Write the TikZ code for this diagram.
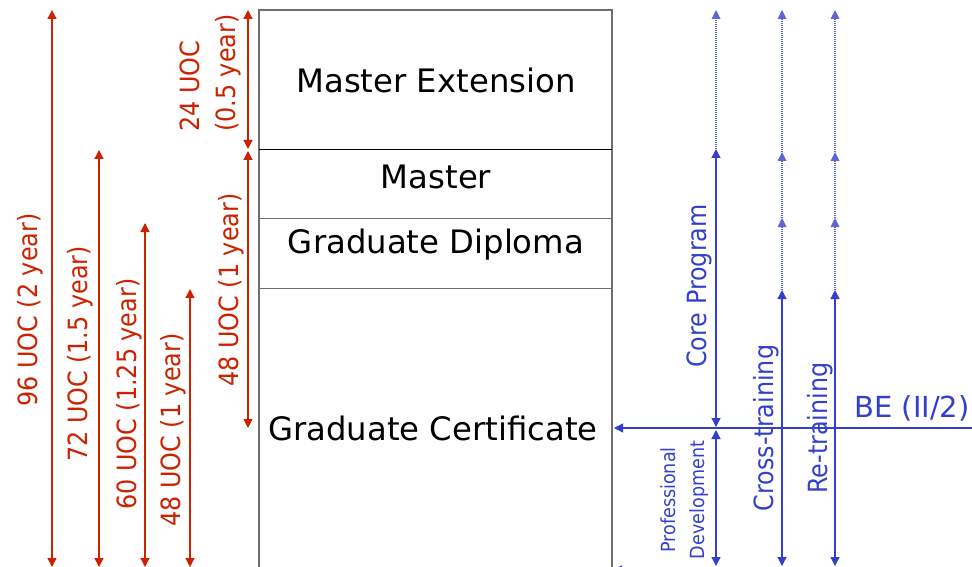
\documentclass[tikz,border=0pt]{standalone}
\usepackage{fontspec}
\setmainfont{DejaVu Sans}
\newfontfamily\condfont[FakeStretch=0.9]{DejaVu Sans}
\usetikzlibrary{arrows.meta}
\definecolor{myred}{RGB}{204,34,0}
\definecolor{myblue}{RGB}{51,64,204}
\definecolor{boxgray}{RGB}{110,110,110}
\begin{document}
\begin{tikzpicture}[x=1pt,y=-1pt,
  redarr/.style={draw=myred, line width=1.3pt, {Triangle[length=9pt,width=9pt]}-{Triangle[length=9pt,width=9pt]}},
  bluearr/.style={draw=myblue, line width=1.3pt, {Triangle[length=9pt,width=9pt]}-{Triangle[length=9pt,width=9pt]}},
  bluedot/.style={draw=myblue!80, line width=1.2pt, dash pattern=on 1pt off 1pt, -{Triangle[length=9pt,width=9pt,line width=0pt]}},
  blueone/.style={draw=myblue, line width=1.3pt, -{Triangle[length=9pt,width=9pt]}},
  boxlbl/.style={font=\fontsize{32.3}{36}\selectfont, text=black, anchor=base, inner sep=0pt},
  redlbl/.style={font=\condfont\fontsize{26.5}{30}\selectfont, text=myred, rotate=90, anchor=base, inner sep=0pt},
  bluelbl/.style={font=\condfont\fontsize{26.5}{30}\selectfont, text=myblue, rotate=90, anchor=base, inner sep=0pt},
  smallblue/.style={font=\condfont\fontsize{19.5}{22}\selectfont, text=myblue, rotate=90, anchor=base, inner sep=0pt},
  part/.style={inner sep=0pt, minimum width=353pt}
]
\useasboundingbox (0,0) rectangle (972,567);
\fill[white] (0,0) rectangle (972,567);

% ---- the stacked box ----
\node[part, minimum height=139pt] (mext) at (435.5,79.5) {};
\node[part, minimum height=69pt] (mast) at (435.5,183.5) {};
\node[part, minimum height=70pt] (gdip) at (435.5,253) {};
\node[part, minimum height=312pt] (gcert) at (435.5,444) {};
\draw[boxgray, line width=1.6pt] (gcert.south west) -- (mext.north west) -- (mext.north east) -- (gcert.south east);
\draw[black, line width=1.2pt] (mext.south west) -- (mext.south east);
\draw[boxgray, line width=1.4pt] (mast.south west) -- (mast.south east);
\draw[boxgray, line width=1.4pt] (gdip.south west) -- (gdip.south east);

\node[boxlbl] (tmext) at (436,93) {Master Extension};
\node[boxlbl] (tmast) at (436,188) {Master};
\node[boxlbl] (tgdip) at (436,253) {Graduate Diploma};
\node[boxlbl] (tgcert) at (433,440) {Graduate Certificate};

% ---- red arrows ----
\coordinate (r96t) at (52,10);   \coordinate (r96b) at (52,567);
\coordinate (r72t) at (99,150);  \coordinate (r72b) at (99,567);
\coordinate (r60t) at (145,223); \coordinate (r60b) at (145,567);
\coordinate (r48t) at (190,289); \coordinate (r48b) at (190,567);
\coordinate (r24t) at (248,10);  \coordinate (r24b) at (248,149);
\coordinate (rr48t) at (248,151); \coordinate (rr48b) at (248,428);
\draw[redarr] (r96t) -- (r96b);
\draw[redarr] (r72t) -- (r72b);
\draw[redarr] (r60t) -- (r60b);
\draw[redarr] (r48t) -- (r48b);
\draw[redarr] (r24t) -- (r24b);
\draw[redarr] (rr48t) -- (rr48b);

\node[redlbl] (l96) at (37,310) {96 UOC (2 year)};
\node[redlbl] (l72) at (87,354) {72 UOC (1.5 year)};
\node[redlbl] (l60) at (136,394) {60 UOC (1.25 year)};
\node[redlbl] (l48) at (180,430) {48 UOC (1 year)};
\node[redlbl] (lr48) at (238,290) {48 UOC (1 year)};
\node[redlbl, anchor=base west] (l24a) at (199,132) {24 UOC};
\node[redlbl, anchor=base west] (l24b) at (235,132) {(0.5 year)};

% ---- blue arrows ----
\coordinate (cTop) at (716,10);  \coordinate (cMid) at (716,149); \coordinate (cBot) at (716,427);
\coordinate (pTop) at (716,430); \coordinate (pBot) at (716,566);
\coordinate (xTop) at (782,10);  \coordinate (xA) at (782,152); \coordinate (xB) at (782,218); \coordinate (xC) at (782,290); \coordinate (xBot) at (782,566);
\coordinate (eTop) at (835,10);  \coordinate (eA) at (835,152); \coordinate (eB) at (835,218); \coordinate (eC) at (835,290); \coordinate (eBot) at (835,566);
\coordinate (beR) at (975,428);  \coordinate (beL) at (614,428);
\coordinate (bbR) at (700,570);  \coordinate (bbL) at (613,570);

\draw[bluedot] (cMid) -- (cTop);
\draw[bluearr] (cMid) -- (cBot);
\draw[bluearr] (pTop) -- (pBot);

\draw[bluedot] (xA) -- (xTop);
\draw[bluedot] (xB) -- (xA);
\draw[bluedot] (xC) -- (xB);
\draw[bluearr] (xC) -- (xBot);

\draw[bluedot] (eA) -- (eTop);
\draw[bluedot] (eB) -- (eA);
\draw[bluedot] (eC) -- (eB);
\draw[bluearr] (eC) -- (eBot);

\draw[blueone] (beR) -- (beL);
\draw[blueone] (bbR) -- (bbL);

\node[bluelbl] (lcore) at (706,286) {Core Program};
\node[bluelbl] (lcross) at (773,428) {Cross-training};
\node[bluelbl] (lre) at (827,428) {Re-training};
\node[smallblue] (lprof) at (675,500) {Professional};
\node[smallblue] (ldev) at (704,500) {Development};
\node[font=\fontsize{29}{32}\selectfont, text=myblue, anchor=base, inner sep=0pt] (lbe) at (912,417) {BE (II/2)};
\end{tikzpicture}
\end{document}
